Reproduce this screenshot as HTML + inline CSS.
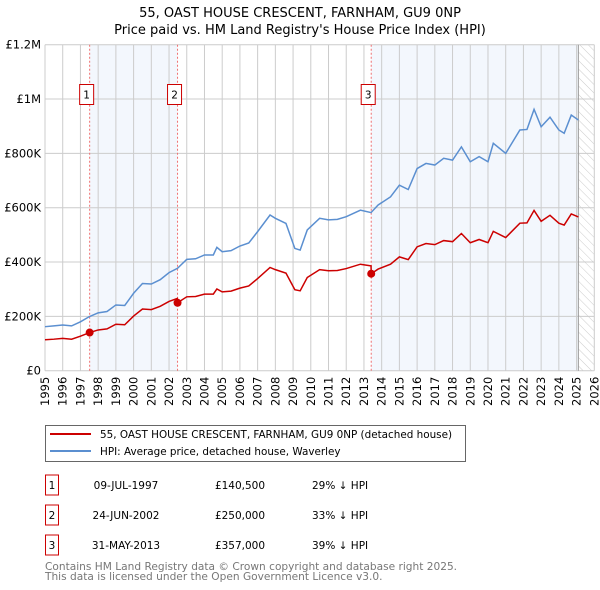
<!DOCTYPE html>
<html><head><meta charset="utf-8"><style>
body{margin:0;background:#fff;}
svg{display:block;font-family:"DejaVu Sans","Liberation Sans",sans-serif;}
</style></head><body>
<svg id="chart" width="600" height="590" viewBox="0 0 600 590" xmlns="http://www.w3.org/2000/svg">
<defs><pattern id="hatch" width="6" height="6" patternUnits="userSpaceOnUse" patternTransform="rotate(-45)"><line x1="0" y1="0" x2="0" y2="6" stroke="#ccc" stroke-width="1"/></pattern></defs>
<text x="300" y="17" text-anchor="middle" font-size="13">55, OAST HOUSE CRESCENT, FARNHAM, GU9 0NP</text>
<text x="300" y="34" text-anchor="middle" font-size="13">Price paid vs. HM Land Registry's House Price Index (HPI)</text>
<g id="plot"></g>
<g>
<rect x="45.5" y="425.5" width="420" height="36" fill="#fff" stroke="#666"/>
<line x1="50" y1="434" x2="91" y2="434" stroke="#cc0000" stroke-width="2"/>
<text x="100" y="438" font-size="10.4">55, OAST HOUSE CRESCENT, FARNHAM, GU9 0NP (detached house)</text>
<line x1="50" y1="451" x2="91" y2="451" stroke="#5b8fd0" stroke-width="2"/>
<text x="100" y="455" font-size="10.4">HPI: Average price, detached house, Waverley</text>
</g>
<g id="table"></g>
<text x="45" y="570" font-size="10.6" fill="#777">Contains HM Land Registry data © Crown copyright and database right 2025.</text>
<text x="45" y="580" font-size="10.6" fill="#777">This data is licensed under the Open Government Licence v3.0.</text>
</svg>
<script>
const hpiYears=[1995,1995.5,1996,1996.5,1997,1997.5,1998,1998.5,1999,1999.5,2000,2000.5,2001,2001.5,2002,2002.48,2003,2003.5,2004,2004.5,2004.7,2005,2005.5,2006,2006.5,2007,2007.7,2008,2008.6,2009.1,2009.4,2009.8,2010.5,2011,2011.5,2012,2012.8,2013.4,2013.8,2014.5,2015,2015.5,2016,2016.5,2017,2017.5,2018,2018.5,2019,2019.5,2020,2020.3,2021,2021.8,2022.2,2022.6,2023,2023.5,2024,2024.3,2024.7,2025.1];
const hpiValues=[162,165,168,165,180,199,213,218,242,240,285,321,319,335,361,377,410,412,426,426,454,438,442,459,470,512,573,561,542,450,444,518,561,555,557,567,591,582,610,640,683,667,744,763,757,782,775,824,769,788,769,837,800,886,888,962,898,933,886,874,941,923];
const redYears=[1995,1995.5,1996,1996.5,1997,1997.52,1998,1998.5,1999,1999.5,2000,2000.5,2001,2001.5,2002,2002.47,2002.48,2003,2003.5,2004,2004.5,2004.7,2005,2005.5,2006,2006.5,2007,2007.7,2008,2008.6,2009.1,2009.4,2009.8,2010.5,2011,2011.5,2012,2012.8,2013.4,2013.41,2013.8,2014.5,2015,2015.5,2016,2016.5,2017,2017.5,2018,2018.5,2019,2019.5,2020,2020.3,2021,2021.8,2022.2,2022.6,2023,2023.5,2024,2024.3,2024.7,2025.1];
const redValues=[114,116,119,116,127,140.5,150,154,171,169,201,227,225,237,255,266,250,272,273,282,282,301,290,293,304,312,339,380,372,359,298,294,343,372,368,369,376,392,386,357,374,392,419,409,456,468,464,479,475,505,471,483,471,513,490,543,544,590,550,572,543,536,577,566];
const saleLabels=["1","2","3"];
const saleYears=[1997.52,2002.48,2013.41];
const saleValues=[140.5,250,357];
const saleDates=["09-JUL-1997","24-JUN-2002","31-MAY-2013"];
const salePrices=["£140,500","£250,000","£357,000"];
const saleDiffs=["29% ↓ HPI","33% ↓ HPI","39% ↓ HPI"];
const yTicks=[0,200,400,600,800,1000,1200];
const yTickLabels=["£0","£200K","£400K","£600K","£800K","£1M","£1.2M"];
const x0=45,x1=594.3,y0=370.7,y1=44.7;
const X=y=>x0+(y-1995)/(2026-1995)*(x1-x0);
const Y=v=>y0-v/1200*(y0-y1);
const NS="http://www.w3.org/2000/svg";
const plot=document.getElementById('plot');
function mk(t,a,p){const e=document.createElementNS(NS,t);for(const k in a)e.setAttribute(k,a[k]);(p||plot).appendChild(e);return e;}
let e;
e=mk('rect',{x:X(saleYears[0]),y:y1,width:X(saleYears[1])-X(saleYears[0]),height:y0-y1,fill:'#eef3fc',opacity:0.7});

e=mk('rect',{x:X(saleYears[2]),y:y1,width:X(2025.1)-X(saleYears[2]),height:y0-y1,fill:'#eef3fc',opacity:0.7});

e=mk('rect',{x:X(2025.1),y:y1,width:x1-X(2025.1),height:y0-y1,fill:'url(#hatch)'});

for(let yr=1995;yr<=2026;yr++){
 e=mk('line',{x1:X(yr),x2:X(yr),y1:y1,y2:y0,stroke:'#ccc','stroke-width':1});
 
 e=mk('text',{x:0,y:0,'font-size':11.5,'text-anchor':'end',transform:`translate(${X(yr)+4},${y0+6}) rotate(-90)`});
 e.textContent=yr;
}
yTicks.forEach((v,i)=>{
 e=mk('line',{x1:x0,x2:x1,y1:Y(v),y2:Y(v),stroke:'#ccc','stroke-width':1});
 
 e=mk('text',{x:x0-4,y:Y(v)+4,'font-size':11.5,'text-anchor':'end'});
 e.textContent=yTickLabels[i];
});
e=mk('line',{x1:X(2025.1),x2:X(2025.1),y1:y1,y2:y0,stroke:'#999','stroke-width':1});

saleYears.forEach((s,i)=>{
 e=mk('line',{x1:X(s),x2:X(s),y1:y1,y2:y0,stroke:'#f07070','stroke-width':1,'stroke-dasharray':'2,2'});
 
 e=mk('rect',{x:X(s)-10,y:84.5,width:14,height:20,fill:'#fff',stroke:'#cc0000'});
 
 e=mk('text',{x:X(s)-3,y:98.5,'font-size':10.5,'text-anchor':'middle'});
 e.textContent=saleLabels[i];
});
e=mk('polyline',{points:hpiYears.map((y,i)=>X(y)+','+Y(hpiValues[i])).join(' '),fill:'none',stroke:'#5b8fd0','stroke-width':1.5});

e=mk('polyline',{points:redYears.map((y,i)=>X(y)+','+Y(redValues[i])).join(' '),fill:'none',stroke:'#cc0000','stroke-width':1.5});

saleYears.forEach((s,i)=>{
 e=mk('circle',{cx:X(s),cy:Y(saleValues[i]),r:4,fill:'#cc0000'});
 
});
const tb=document.getElementById('table');
saleLabels.forEach((l,i)=>{
 const cy=485+i*30;
 e=mk('rect',{x:45.5,y:cy-10,width:13,height:20,fill:'#fff',stroke:'#cc0000'},tb);
 
 e=mk('text',{x:52,y:cy+4,'font-size':10.5,'text-anchor':'middle'},tb);e.textContent=l;
 
 e=mk('text',{x:126,y:cy+4,'font-size':10.5,'text-anchor':'middle'},tb);e.textContent=saleDates[i];
 
 e=mk('text',{x:240,y:cy+4,'font-size':10.5,'text-anchor':'middle'},tb);e.textContent=salePrices[i];
 
 e=mk('text',{x:312,y:cy+4,'font-size':10.5},tb);e.textContent=saleDiffs[i];
 
});
</script>
</body></html>
